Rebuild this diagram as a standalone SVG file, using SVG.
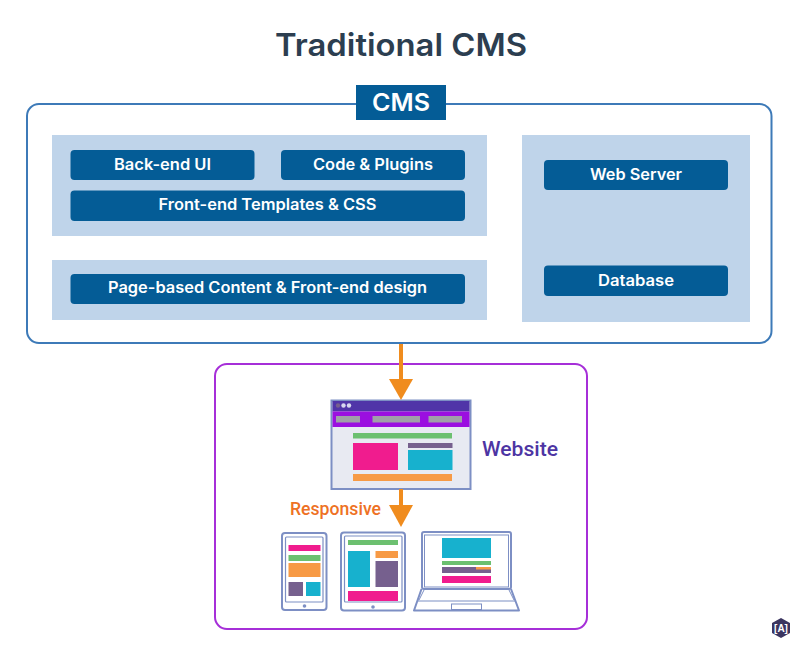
<svg xmlns="http://www.w3.org/2000/svg" width="800" height="651" viewBox="0 0 800 651">
<style>
.t{font-family:"Inter","Open Sans","Liberation Sans",sans-serif;font-weight:600;fill:#fff;text-anchor:middle}
.b{fill:#045c96}
.p{fill:#bfd4ea}
.btn{font-size:15.5px}
.w{font-family:"Roboto","Liberation Sans",sans-serif;font-weight:500}
.dev{fill:#fff;stroke:#7d8fc4;stroke-width:2}
.pk{fill:#f01c8e}.gr{fill:#6cc070}.or{fill:#f79a45}.cy{fill:#17b1ce}.pu{fill:#76608e}.gy{fill:#a0a0a8}
.arrow{stroke:#f08c1e;stroke-width:4;fill:none}
.head{fill:#f08c1e}
</style>
<rect width="800" height="651" fill="#fff"/>
<text x="401" y="56" font-size="31" textLength="252" lengthAdjust="spacingAndGlyphs" style="font-family:Inter,'Open Sans','Liberation Sans',sans-serif;font-weight:600;fill:#2c3e50;text-anchor:middle">Traditional CMS</text>
<g id="cms">
<rect x="27" y="104" width="744.500" height="239" rx="12" fill="#fff" stroke="#3d7ab8" stroke-width="2"/>
<rect x="356" y="85" width="90" height="35" class="b"/>
<text x="401" y="111" font-size="24" textLength="58" lengthAdjust="spacingAndGlyphs" class="t">CMS</text>
</g>
<g id="panel-top">
<rect x="52" y="135" width="435" height="101" class="p"/>
</g>
<g id="back-end-ui"><rect x="70.500" y="150" width="184" height="30" rx="4" class="b"/><text x="162.500" y="170" textLength="97" lengthAdjust="spacingAndGlyphs" class="t btn">Back-end UI</text></g>
<g id="code-plugins"><rect x="281" y="150" width="184" height="30" rx="4" class="b"/><text x="373" y="170" textLength="120" lengthAdjust="spacingAndGlyphs" class="t btn">Code &amp; Plugins</text></g>
<g id="front-end-templates"><rect x="70.500" y="190.500" width="394.500" height="30.500" rx="4" class="b"/><text x="267.500" y="209.500" textLength="218" lengthAdjust="spacingAndGlyphs" class="t btn">Front-end Templates &amp; CSS</text></g>
<g id="panel-content">
<rect x="52" y="260" width="435" height="60" class="p"/>
</g>
<g id="page-content"><rect x="70.500" y="274" width="394.500" height="30" rx="4" class="b"/><text x="267.500" y="293" textLength="319" lengthAdjust="spacingAndGlyphs" class="t btn">Page-based Content &amp; Front-end design</text></g>
<g id="panel-server">
<rect x="522" y="135" width="228" height="187" class="p"/>
</g>
<g id="web-server"><rect x="544" y="160" width="184" height="30" rx="4" class="b"/><text x="636" y="180" textLength="92" lengthAdjust="spacingAndGlyphs" class="t btn">Web Server</text></g>
<g id="database"><rect x="544" y="265.500" width="184" height="30.500" rx="4" class="b"/><text x="636" y="286" textLength="76" lengthAdjust="spacingAndGlyphs" class="t btn">Database</text></g>
<g id="output-frame">
<rect x="215" y="364" width="372" height="265" rx="12" fill="#fff" stroke="#a62fd8" stroke-width="2"/>
</g>
<g id="website">
<rect x="331.500" y="400.500" width="139" height="88.500" fill="#e8eaf2" stroke="#7d8fc4" stroke-width="2"/>
<rect x="332.500" y="401" width="137" height="10.500" fill="#5035a8"/>
<rect x="332.500" y="411.500" width="137" height="15.500" fill="#9b0fe0"/>
<circle cx="338" cy="405.500" r="2.200" fill="#76608e"/><circle cx="343.500" cy="405.500" r="2.200" fill="#d8d8f0"/><circle cx="349" cy="405.500" r="2.200" fill="#d8d8f0"/>
<rect x="336" y="416" width="24" height="6.500" class="gy"/><rect x="372.500" y="416" width="47.500" height="6.500" class="gy"/><rect x="428.500" y="416" width="33.500" height="6.500" class="gy"/>
<rect x="353" y="433" width="99" height="5.500" class="gr"/>
<rect x="353" y="443" width="45" height="27" class="pk"/>
<rect x="408" y="443" width="44.500" height="5" class="pu"/>
<rect x="408" y="450" width="44.500" height="20" class="cy"/>
<rect x="353" y="474" width="99" height="7" class="or"/>
<text x="482" y="456" font-size="21" textLength="76" lengthAdjust="spacingAndGlyphs" class="w" fill="#4d35a3">Website</text>
</g>
<g id="phone">
<rect x="282" y="533" width="44.500" height="77" rx="3" class="dev"/>
<rect x="285.500" y="537" width="37.500" height="65" rx="1" fill="#fff" stroke="#7d8fc4" stroke-width="1.200"/>
<rect x="288.500" y="545" width="32" height="6" class="pk"/>
<rect x="288.500" y="555" width="32" height="6" class="gr"/>
<rect x="288.500" y="563" width="32" height="14" class="or"/>
<rect x="288.500" y="582" width="14.500" height="14" class="pu"/>
<rect x="306" y="582" width="14.500" height="14" class="cy"/>
<circle cx="304.500" cy="606" r="1.800" fill="#7d8fc4"/>
</g>
<g id="tablet">
<rect x="341" y="532.500" width="64" height="78" rx="3" class="dev"/>
<rect x="344.500" y="536" width="57.500" height="66" rx="1" fill="#fff" stroke="#7d8fc4" stroke-width="1.200"/>
<rect x="348" y="540" width="50" height="5" class="gr"/>
<rect x="348" y="551" width="22" height="36" class="cy"/>
<rect x="375.500" y="551" width="22.500" height="7" class="or"/>
<rect x="375.500" y="561" width="22.500" height="26" class="pu"/>
<rect x="348" y="591" width="50" height="10" class="pk"/>
<circle cx="373" cy="607" r="1.800" fill="#7d8fc4"/>
</g>
<g id="laptop">
<path d="M421.500 589L414 610.500H519L511 589" fill="#fff" stroke="#7d8fc4" stroke-width="2" stroke-linejoin="round"/>
<path d="M418 601H516" stroke="#7d8fc4" stroke-width="1.200" fill="none"/>
<path d="M419 600L424 590M514 600L509 590" stroke="#7d8fc4" stroke-width="1" fill="none"/>
<rect x="451.500" y="604" width="30" height="5.500" fill="#fff" stroke="#7d8fc4" stroke-width="1"/>
<rect x="422" y="532" width="89" height="57" rx="2" class="dev"/>
<rect x="424.500" y="535" width="84" height="52" fill="#fff" stroke="#7d8fc4" stroke-width="1"/>
<rect x="442" y="538" width="49" height="20" class="cy"/>
<rect x="442" y="561" width="49" height="4" class="gr"/>
<rect x="442" y="567" width="49" height="6" class="pu"/>
<rect x="476" y="567" width="15" height="2.500" class="or"/>
<rect x="442" y="576" width="49" height="7" class="pk"/>
</g>
<g id="connectors">
<path d="M401 344V381" class="arrow"/>
<path d="M389 379H413L401 400Z" class="head"/>
<path d="M401 489V506" class="arrow"/>
<path d="M389 505H413L401 527Z" class="head"/>
</g>
<text x="290" y="515" font-size="17.500" textLength="91" lengthAdjust="spacingAndGlyphs" class="w" fill="#ee7124">Responsive</text>
<g id="logo">
<path d="M781 618L790 623V633L781 638L772 633V623Z" fill="#3b3560"/>
<text x="781" y="632" font-size="10" text-anchor="middle" fill="#fff" style="font-family:'Liberation Sans',sans-serif;font-weight:700">[A]</text>
</g>
</svg>
